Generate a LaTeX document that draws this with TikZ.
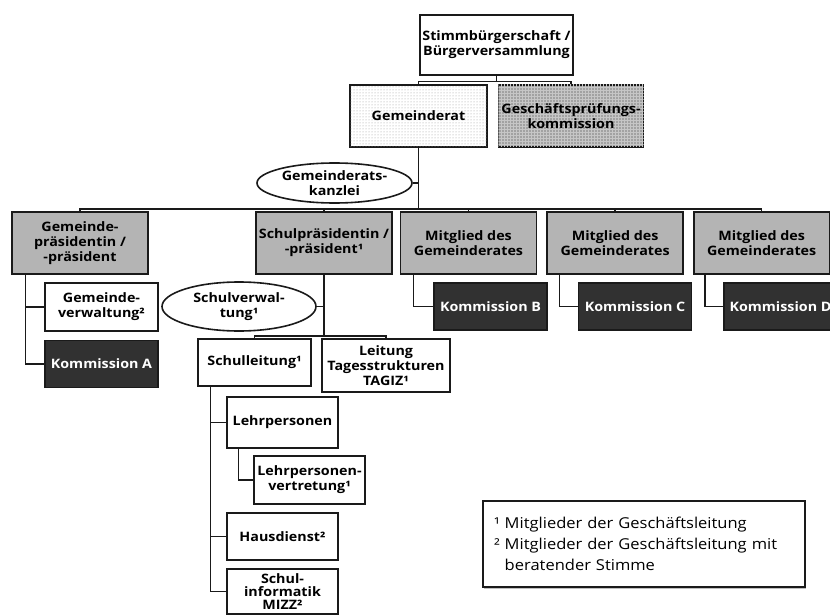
\documentclass[tikz,border=0pt]{standalone}
\usepackage{fontspec}
\setmainfont{Open Sans}[FakeStretch=1.1]
\usepackage{tikz}
\usetikzlibrary{positioning,shapes.geometric,patterns,shadows}
\definecolor{BoxGray}{HTML}{B4B4B4}
\definecolor{PanelGray}{HTML}{A2A2A2}
\definecolor{KommDark}{HTML}{313131}
\definecolor{LineBlack}{HTML}{1A1A1A}

\begin{document}
\begin{tikzpicture}[
    x=1pt, y=-1pt,
    font=\fontsize{13}{15}\selectfont\bfseries,
    unit/.style={draw=LineBlack, line width=1.6pt, align=center, inner sep=2pt, fill=white},
    member/.style={unit, fill=BoxGray, minimum width=136pt, minimum height=62pt},
    komm/.style={unit, fill=KommDark, text=white, minimum width=113pt, minimum height=47pt},
    office/.style={ellipse, draw=LineBlack, line width=1.6pt, align=center, inner sep=0pt, fill=white},
    conn/.style={draw=LineBlack, line width=1.4pt}
]
\useasboundingbox (0,0) rectangle (830,615);

% Spitze
\node[unit, minimum width=153pt, minimum height=60pt] (volk) at (496.5,45) {Stimmbürgerschaft /\\Bürgerversammlung};
\node[unit, minimum width=137pt, minimum height=62pt, fill=white, postaction={pattern=dots, pattern color=gray!80}] (grat) at (418.5,116) {Gemeinderat};
\node[unit, minimum width=145pt, minimum height=62pt, fill=PanelGray, postaction={pattern=grid, pattern color=gray!45}, right=10pt of grat] (gpk) {Geschäftsprüfungs-\\kommission};
\node[office, minimum width=155pt, minimum height=40pt] (kanzlei) at (334.5,183) {Gemeinderats-\\kanzlei};

% Ressorts
\node[member] (praes) at (80,243) {Gemeinde-\\präsidentin /\\-präsident};
\node[member] (spraes) at (324,243) {Schulpräsidentin /\\-präsident¹};
\node[member] (mg1) at (468.5,243) {Mitglied des\\Gemeinderates};
\node[member, right=9pt of mg1] (mg2) {Mitglied des\\Gemeinderates};
\node[member, right=9pt of mg2] (mg3) {Mitglied des\\Gemeinderates};

% Gemeindepraesidium
\node[unit, minimum width=113pt, minimum height=48pt] (gverw) at (101.5,307) {Gemeinde-\\verwaltung²};
\node[komm, below=8pt of gverw] (kA) {Kommission A};
\node[komm] (kB) at (490.5,306.5) {Kommission B};
\node[komm] (kC) at (635,306.5) {Kommission C};
\node[komm] (kD) at (780.5,306.5) {Kommission D};

% Schule
\node[office, minimum width=154pt, minimum height=49pt] (sverw) at (239,306.5) {Schulverwal-\\tung¹};
\node[unit, minimum width=113pt, minimum height=47pt] (sleit) at (254.5,362.5) {Schulleitung¹};
\node[unit, minimum width=128pt, minimum height=53pt] (tagiz) at (386,365.5) {Leitung\\Tagesstrukturen\\TAGIZ¹};
\node[unit, minimum width=111pt, minimum height=51pt] (lehr) at (282.5,422.5) {Lehrpersonen};
\node[unit, minimum width=111pt, minimum height=48pt] (lvert) at (309.5,480) {Lehrpersonen-\\vertretung¹};
\node[unit, minimum width=111pt, minimum height=47pt] (haus) at (282.5,536.5) {Hausdienst²};
\node[unit, minimum width=111pt, minimum height=45pt, inner sep=1pt, font=\fontsize{13}{13.4}\selectfont\bfseries] (mizz) at (282.5,591.5) {Schul-\\informatik\\MIZZ²};

% Legende
\node[draw=LineBlack, line width=1.2pt, fill=white, drop shadow={shadow xshift=1pt, shadow yshift=-1.5pt, fill=gray},
      minimum width=322pt, minimum height=86pt, align=left, text width=300pt,
      font=\fontsize{15}{21}\selectfont] (legende) at (644,544)
  {¹ Mitglieder der Geschäftsleitung\\² Mitglieder der Geschäftsleitung mit\\\phantom{²} beratender Stimme};

% Linien
\draw[conn] (volk.south) -- ++(0,6) coordinate (j1);
\draw[conn] (grat.north) |- (j1) -| (gpk.north);
\draw[conn] (grat.south) -- ++(0,61) coordinate (j2);
\draw[conn] (kanzlei.east) -- (kanzlei.east -| grat.south);
\foreach \n in {praes,spraes,mg1,mg2,mg3}{\draw[conn] (\n.north) |- (j2);}

\coordinate (ga) at ([xshift=14pt]praes.south west);
\foreach \n in {gverw,kA}{\draw[conn] (ga) |- (\n.west);}
\draw[conn] ([xshift=14pt]mg1.south west) |- (kB.west);
\draw[conn] ([xshift=13pt]mg2.south west) |- (kC.west);
\draw[conn] ([xshift=12pt]mg3.south west) |- (kD.west);

\draw[conn] (spraes.south) -- ++(0,61) coordinate (j3);
\draw[conn] (sverw.east) -- (sverw.east -| spraes.south);
\foreach \n in {sleit,tagiz}{\draw[conn] (\n.north) |- (j3);}
\coordinate (sa) at ([xshift=13pt]sleit.south west);
\foreach \n in {lehr,haus,mizz}{\draw[conn] (sa) |- (\n.west);}
\draw[conn] ([xshift=12pt]lehr.south west) |- (lvert.west);
\end{tikzpicture}
\end{document}
